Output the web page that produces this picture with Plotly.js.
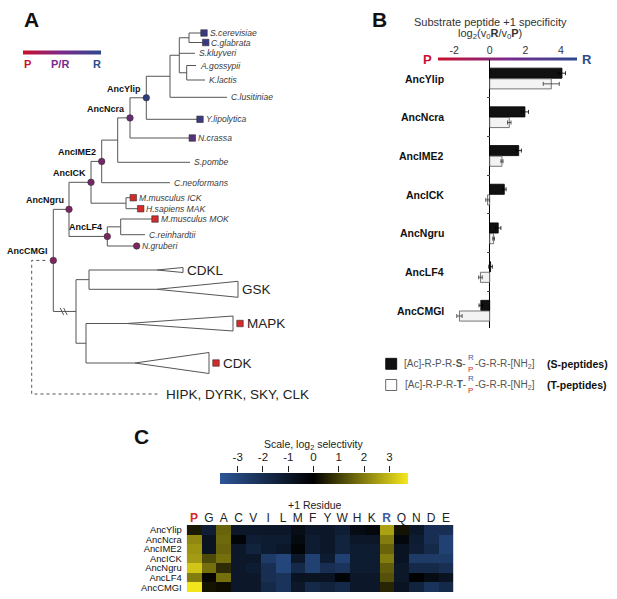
<!DOCTYPE html>
<html><head><meta charset="utf-8">
<script src="https://cdn.plot.ly/plotly-3.0.1.min.js"></script>
<style>html,body{margin:0;padding:0;background:#fff}#chart{width:617px;height:599px}</style>
</head><body><div id="chart"></div>
<script>
// ================= DATA =================
// ---- Panel A: phylogenetic tree (node, parent, horizontal depth, leaf vertical slot) ----
const nodeNames = ['AncCMGI','AncNgru','AncICK','AncIME2','nSpo','AncNcra','AncYlip','nSacc','nSk','nScCg',
  'S.cerevisiae','C.glabrata','S.kluyveri','nAgKl','A.gossypii','K.lactis','C.lusitiniae','Y.lipolytica',
  'N.crassa','S.pombe','C.neoformans','nMak','M.musculus ICK','H.sapiens MAK','AncLF4','nMok',
  'M.musculus MOK','C.reinhardtii','N.gruberi','nCMGC','nCdklGsk','CDKL','GSK','nMapkCdk','MAPK','CDK'];
const nodeParents = [null,'AncCMGI','AncNgru','AncICK','AncIME2','nSpo','AncNcra','AncYlip','nSacc','nSk',
  'nScCg','nScCg','nSk','nSk','nAgKl','nAgKl','nSacc','AncYlip',
  'AncNcra','nSpo','AncIME2','AncICK','nMak','nMak','AncNgru','AncLF4',
  'nMok','nMok','AncLF4','AncCMGI','nCMGC','nCdklGsk','nCdklGsk','nCMGC','nMapkCdk','nMapkCdk'];
const nodeDepth = [53.3,69,91,101.7,117.7,130,146.3,170,179.3,189,
  204,205.7,195,186.7,196,205,227,200,
  192.3,190,170,126,133.3,140.7,107.3,120.7,
  155,145,136.7,76,89,157,157,86,127,135];
const leafSlot = [null,null,null,null,null,null,null,null,null,null,
  33,42.5,53.3,null,65.5,80,97.3,119.3,
  138,162.3,182.7,null,197.7,208.7,null,null,
  219,234.7,246,null,null,270,289.3,null,323.5,363];
const circleNodes  = ['AncYlip','AncNcra','AncIME2','AncICK','AncNgru','AncLF4','AncCMGI','N.gruberi'];
const circleColors = ['#2e3d7c','#682c74','#742868','#782766','#7d2462','#7d2462','#822260','#7d2462'];
const squareLeaves = ['S.cerevisiae','C.glabrata','Y.lipolytica','N.crassa','M.musculus ICK','H.sapiens MAK','M.musculus MOK'];
const squareColors = ['#3a3882','#3a3882','#3d3a80','#53347c','#d42a2a','#d42a2a','#d42a2a'];
const speciesLeaves = ['S.cerevisiae','C.glabrata','S.kluyveri','A.gossypii','K.lactis','C.lusitiniae','Y.lipolytica',
  'N.crassa','S.pombe','C.neoformans','M.musculus ICK','H.sapiens MAK','M.musculus MOK','C.reinhardtii','N.gruberi'];
const cladeNames  = ['CDKL','GSK','MAPK','CDK'];
const cladeTipX   = [183,238,233,209];
const cladeHalf   = [2.5,8,7.5,10.5];
const cladeMarked = [false,false,true,true];
const outgroupName = 'HIPK, DYRK, SKY, CLK';
const outgroupDepth = 160, outgroupSlot = 394, outgroupStem = 31.7;

// ---- Panel B: +1 specificity log2(v0R/v0P) ----
const ancestors = ['AncYlip','AncNcra','AncIME2','AncICK','AncNgru','AncLF4','AncCMGI'];
const sPeptide    = [4.06, 1.98, 1.63, 0.82, 0.48, 0.05, -0.50];
const sPeptideErr = [0.20, 0.20, 0.15, 0.10, 0.15, 0.10, 0.10];
const tPeptide    = [3.46, 1.10, 0.69, -0.12, 0.22, -0.52, -1.70];
const tPeptideErr = [0.45, 0.10, 0.06, 0.10, 0.05, 0.10, 0.15];
const bTicks = [-2,0,2,4];

// ---- Panel C: log2 selectivity heatmap ----
const residues = ['P','G','A','C','V','I','L','M','F','Y','W','H','K','R','Q','N','D','E'];
const heatRows = ['AncYlip','AncNcra','AncIME2','AncICK','AncNgru','AncLF4','AncCMGI'];
const selYlip = [0.4,-1.3,1.6,-1.0,-1.0,-1.0,-1.0,-0.6,-1.0,-1.0,-1.3,-0.5,-0.3,2.6,0.3,-1.0,-2.0,-2.0];
const selNcra = [2.2,-0.8,1.7,-0.2,-1.3,-1.2,-1.2,-0.4,-1.2,-1.0,-1.5,-1.0,-1.0,2.0,-0.3,-1.2,-2.0,-2.8];
const selIME2 = [2.4,-0.8,1.6,-1.0,-1.5,-1.2,-1.0,-0.2,-1.2,-1.0,-1.5,-1.2,-1.2,1.6,-0.8,-1.3,-1.8,-2.8];
const selICK  = [2.5,1.2,1.8,-1.0,-1.0,-2.5,-3.0,-1.0,-2.8,-1.2,-2.8,-1.2,-1.2,2.0,-0.8,-2.5,-2.5,-2.5];
const selNgru = [3.2,1.8,0.7,-1.0,-1.2,-2.0,-3.0,-1.8,-2.8,-2.0,-2.2,-1.2,-1.2,1.5,-1.0,-1.8,-1.8,-2.0];
const selLF4  = [2.0,0.1,1.8,-1.0,-1.0,-2.0,-2.2,-0.8,-0.8,-0.8,-0.2,-1.0,-1.0,1.3,-1.0,-0.1,-0.5,-0.8];
const selCMGI = [3.7,0.3,0.2,-1.0,-1.0,-1.8,-2.2,-1.0,-1.8,-1.5,-1.8,-1.0,-1.0,0.6,-0.8,-1.5,-2.2,-1.8];
const scaleTicks = [-3,-2,-1,0,1,2,3];

// ================= BUILD =================
const W = 617, H = 599;
const FONT = 'Liberation Sans, Arial, Helvetica, sans-serif';
const px = x => x / W, py = y => 1 - y / H;
const LINE = '#555';
const hyphenLabel = v => String(v);   // plain hyphen minus, as in the figure

// tree geometry
const idx = {}; nodeNames.forEach((n,i)=>idx[n]=i);
const kids = nodeNames.map(()=>[]);
nodeParents.forEach((p,i)=>{ if(p) kids[idx[p]].push(i); });
const yCache = {};
function yOf(i){
  if (yCache[i] !== undefined) return yCache[i];
  if (leafSlot[i] !== null) return (yCache[i] = leafSlot[i]);
  const ys = kids[i].map(yOf);
  return (yCache[i] = (Math.min(...ys) + Math.max(...ys)) / 2);
}
const bx = [], by = [];
nodeNames.forEach((n,i)=>{
  const p = nodeParents[i];
  if (p) { bx.push(nodeDepth[idx[p]], nodeDepth[i], null); by.push(yOf(i), yOf(i), null); }
  if (kids[i].length) { const ys = kids[i].map(yOf); bx.push(nodeDepth[i], nodeDepth[i], null); by.push(Math.min(...ys), Math.max(...ys), null); }
});
const traces = [];
traces.push({type:'scatter', mode:'lines', x:bx, y:by, line:{color:LINE, width:1}, hoverinfo:'skip', xaxis:'x', yaxis:'y'});

// break mark on CMGC stem
{
  const i = idx['nCMGC'], p = idx['AncCMGI'];
  const mx = (nodeDepth[i] + nodeDepth[p]) / 2, my = yOf(i);
  traces.push({type:'scatter', mode:'lines',
    x:[mx-4.5, mx-1, null, mx-1, mx+2.5], y:[my-3.5, my+3.5, null, my-3.5, my+3.5],
    line:{color:LINE, width:1}, hoverinfo:'skip', xaxis:'x', yaxis:'y'});
}
// outgroup dashed
{
  const r = idx['AncCMGI'];
  traces.push({type:'scatter', mode:'lines',
    x:[nodeDepth[r]-8, outgroupStem, outgroupStem, outgroupDepth],
    y:[yOf(r), yOf(r), outgroupSlot, outgroupSlot],
    line:{color:LINE, width:1, dash:'3px,3px'}, hoverinfo:'skip', xaxis:'x', yaxis:'y'});
}
// collapsed clade triangles
cladeNames.forEach((c,k)=>{
  const i = idx[c], ax = nodeDepth[i], ay = yOf(i);
  traces.push({type:'scatter', mode:'lines', fill:'toself', fillcolor:'#fff',
    x:[ax, cladeTipX[k], cladeTipX[k], ax], y:[ay, ay-cladeHalf[k], ay+cladeHalf[k], ay],
    line:{color:LINE, width:1}, hoverinfo:'skip', xaxis:'x', yaxis:'y'});
});
// squares on leaves
const sqX = [], sqY = [], sqC = [];
squareLeaves.forEach((n,k)=>{ sqX.push(nodeDepth[idx[n]]); sqY.push(yOf(idx[n])); sqC.push(squareColors[k]); });
cladeNames.forEach((c,k)=>{ if (cladeMarked[k]) { sqX.push(cladeTipX[k]+7); sqY.push(yOf(idx[c])); sqC.push('#d42a2a'); } });
traces.push({type:'scatter', mode:'markers', x:sqX, y:sqY, marker:{symbol:'square', size:6.5, color:sqC, line:{color:'#333', width:0.6}}, hoverinfo:'skip', xaxis:'x', yaxis:'y'});
// circles on ancestral nodes
traces.push({type:'scatter', mode:'markers', x:circleNodes.map(n=>nodeDepth[idx[n]]), y:circleNodes.map(n=>yOf(idx[n])),
  marker:{symbol:'circle', size:6.5, color:circleColors, line:{color:'#333', width:0.6}}, hoverinfo:'skip', xaxis:'x', yaxis:'y'});

// gradient bars (P -> R)
const gradScale = [[0,'#c8102e'],[0.5,'#7b2a8c'],[1,'#2d4a8e']];
function gradBar(x0, x1, y0, y1){
  const n = 80, xs = [], z = [[]];
  for (let k=0;k<=n;k++) xs.push(x0 + (x1-x0)*k/n);
  for (let k=0;k<n;k++) z[0].push(k);
  return {type:'heatmap', x:xs, y:[y0,y1], z:z, colorscale:gradScale, showscale:false, hoverinfo:'skip', xaxis:'x', yaxis:'y', zsmooth:false};
}
traces.push(gradBar(23, 101, 50.5, 54));
traces.push(gradBar(438, 577, 57.5, 60.5));

// Panel B bars
traces.push({type:'bar', orientation:'h', name:'S-peptides', y:ancestors, x:sPeptide,
  marker:{color:'#111', line:{color:'#000', width:0.8}},
  error_x:{type:'data', array:sPeptideErr, color:'#000', thickness:0.8, width:2},
  xaxis:'x2', yaxis:'y2', hoverinfo:'skip'});
traces.push({type:'bar', orientation:'h', name:'T-peptides', y:ancestors, x:tPeptide,
  marker:{color:'#f3f3f3', line:{color:'#555', width:0.8}},
  error_x:{type:'data', array:tPeptideErr, color:'#333', thickness:0.8, width:2},
  xaxis:'x2', yaxis:'y2', hoverinfo:'skip'});

// Panel C heatmap
traces.push({type:'heatmap', x:residues, y:heatRows,
  z:[selYlip, selNcra, selIME2, selICK, selNgru, selLF4, selCMGI],
  zmin:-3.7, zmax:3.75,
  colorscale:[[0,'#2c5697'],[0.4966,'#000000'],[1,'#f5e81c']],
  xaxis:'x3', yaxis:'y3', hoverinfo:'skip',
  colorbar:{orientation:'h', x:px(220), xanchor:'left', y:py(484), yanchor:'bottom',
    len:188.3, lenmode:'pixels', thickness:11, thicknessmode:'pixels', xpad:0, ypad:0,
    outlinewidth:0, showticklabels:false, ticks:''}});
// axis for colour-scale ticks
traces.push({type:'scatter', x:[], y:[], xaxis:'x4', yaxis:'y4', hoverinfo:'skip', showlegend:false});

// ================= ANNOTATIONS =================
const ann = [];
function pageText(x, y, text, opt){
  ann.push(Object.assign({xref:'x', yref:'y', x:x, y:y, text:text, showarrow:false,
    font:{family:FONT, size:9, color:'#333'}, xanchor:'left', yanchor:'middle', borderpad:0}, opt||{}));
}
// species labels
speciesLeaves.forEach(n=>{
  const i = idx[n];
  const gap = squareLeaves.includes(n) || circleNodes.includes(n) ? 4.5 : 3;
  pageText(nodeDepth[i] + gap, yOf(i), '<i>' + n + '</i>', {font:{family:FONT, size:8.6, color:'#3a3a3a'}});
});
// clade labels
cladeNames.forEach((c,k)=>{
  const gap = cladeMarked[k] ? 13 : 3;
  pageText(cladeTipX[k] + gap, yOf(idx[c]), c, {font:{family:FONT, size:13.5, color:'#222'}});
});
pageText(outgroupDepth + 5, outgroupSlot, outgroupName, {font:{family:FONT, size:13.5, color:'#222'}});
// ancestral node labels
circleNodes.filter(n=>n.startsWith('Anc')).forEach(n=>{
  const i = idx[n];
  pageText(nodeDepth[i] - 4.5, yOf(i) - 9, '<b>' + n + '</b>', {xanchor:'right', font:{family:FONT, size:9, color:'#111'}});
});
// panel letters
pageText(31, 19, '<b>A</b>', {xanchor:'center', font:{family:FONT, size:21, color:'#111'}});
pageText(379.5, 19, '<b>B</b>', {xanchor:'center', font:{family:FONT, size:21, color:'#111'}});
pageText(141.7, 436, '<b>C</b>', {xanchor:'center', font:{family:FONT, size:21, color:'#111'}});
// P / R key in A
pageText(27, 63.5, '<b>P</b>', {xanchor:'center', font:{family:FONT, size:11, color:'#c8102e'}});
pageText(60, 63.5, '<b>P/R</b>', {xanchor:'center', font:{family:FONT, size:11, color:'#7b2a8c'}});
pageText(97, 63.5, '<b>R</b>', {xanchor:'center', font:{family:FONT, size:11, color:'#2d4a8e'}});
// panel B headings
pageText(490, 22, 'Substrate peptide +1 specificity', {xanchor:'center', font:{family:FONT, size:11, color:'#333'}});
pageText(490, 34, 'log<sub>2</sub>(v<sub>0</sub><b>R</b>/v<sub>0</sub><b>P</b>)', {xanchor:'center', font:{family:FONT, size:11, color:'#333'}});
pageText(427.3, 59, '<b>P</b>', {xanchor:'center', font:{family:FONT, size:13, color:'#c8102e'}});
pageText(586.7, 59, '<b>R</b>', {xanchor:'center', font:{family:FONT, size:13, color:'#2d4a8e'}});
// panel B category labels
ancestors.forEach(a=>{
  ann.push({xref:'paper', yref:'y2', x:px(446), y:a, text:'<b>'+a+'</b>', showarrow:false, xanchor:'right', yanchor:'middle',
    font:{family:FONT, size:10.5, color:'#111'}});
});
// panel B legend
const legendRows = [{y:363.5, res:'S', lab:'(S-peptides)'}, {y:384.5, res:'T', lab:'(T-peptides)'}];
legendRows.forEach(r=>{
  pageText(467, r.y, '[Ac]-R-P-R-<b>' + r.res + '</b>-', {xanchor:'right', font:{family:FONT, size:10, color:'#555'}});
  pageText(470.7, r.y - 6, 'R', {xanchor:'center', font:{family:FONT, size:8, color:'#3b5ba5'}});
  pageText(470.7, r.y + 6, 'P', {xanchor:'center', font:{family:FONT, size:8, color:'#d42a2a'}});
  pageText(474, r.y, '-G-R-R-[NH<sub>2</sub>]', {font:{family:FONT, size:10, color:'#555'}});
  pageText(577, r.y, '<b>' + r.lab + '</b>', {xanchor:'center', font:{family:FONT, size:10.5, color:'#111'}});
});
// panel C headings
pageText(313, 444.5, 'Scale, log<sub>2</sub> selectivity', {xanchor:'center', font:{family:FONT, size:10.5, color:'#222'}});
pageText(315, 504.5, '+1 Residue', {xanchor:'center', font:{family:FONT, size:10.5, color:'#222'}});

const shapes = [
  {type:'rect', xref:'paper', yref:'paper', x0:px(385.7), x1:px(396.7), y0:py(369.3), y1:py(358.3), fillcolor:'#111', line:{color:'#000', width:0.8}},
  {type:'rect', xref:'paper', yref:'paper', x0:px(385.7), x1:px(396.7), y0:py(390.5), y1:py(379.5), fillcolor:'#fff', line:{color:'#444', width:0.8}}
];

const tickText = residues.map(r => r==='P' ? '<b><span style="color:#d42a2a">P</span></b>' : (r==='R' ? '<b><span style="color:#3b5ba5">R</span></b>' : r));

const layout = {
  width:W, height:H, margin:{l:0,r:0,t:0,b:0},
  paper_bgcolor:'#fff', plot_bgcolor:'rgba(0,0,0,0)',
  showlegend:false, font:{family:FONT, color:'#222'},
  xaxis:{domain:[0,1], range:[0,W], visible:false, fixedrange:true},
  yaxis:{domain:[0,1], range:[H,0], visible:false, fixedrange:true},
  xaxis2:{domain:[px(452), px(577)], range:[(452-489.7)/17.8, (577-489.7)/17.8], anchor:'y2', side:'top',
    tickmode:'array', tickvals:bTicks, ticktext:bTicks.map(hyphenLabel), ticks:'', ticklabelstandoff:2,
    showgrid:false, showline:false, zeroline:true, zerolinecolor:'#000', zerolinewidth:1.3,
    tickfont:{family:FONT, size:10.5, color:'#333'}, fixedrange:true},
  yaxis2:{domain:[py(328), py(59)], type:'category', categoryorder:'array', categoryarray:ancestors,
    range:[6.447, -0.504], autorange:false, anchor:'free', position:px(489.7), tickson:'boundaries',
    ticks:'outside', ticklen:3, tickcolor:'#444', showticklabels:false, showgrid:false, showline:false, zeroline:false, fixedrange:true},
  barmode:'group', bargap:0.45, bargroupgap:0.05,
  xaxis3:{domain:[px(186.7), px(453.3)], anchor:'y3', side:'top', ticks:'', showgrid:false, showline:false,
    tickmode:'array', tickvals:residues, ticktext:tickText, tickfont:{family:FONT, size:12, color:'#222'}, fixedrange:true},
  yaxis3:{domain:[py(592), py(525)], anchor:'x3', autorange:'reversed', ticks:'', showgrid:false, showline:false,
    tickmode:'array', tickvals:heatRows, ticktext:heatRows, ticklabelstandoff:4,
    tickfont:{family:FONT, size:9.4, color:'#111'}, fixedrange:true},
  xaxis4:{domain:[px(220), px(408.3)], range:[-3.7, 3.75], anchor:'y4', side:'top',
    tickmode:'array', tickvals:scaleTicks, ticktext:scaleTicks.map(hyphenLabel),
    ticks:'outside', ticklen:6, tickcolor:'#222', showgrid:false, showline:false, zeroline:false,
    tickfont:{family:FONT, size:11.5, color:'#222'}, fixedrange:true},
  yaxis4:{domain:[py(484), py(473)], anchor:'x4', visible:false, range:[0,1], fixedrange:true},
  annotations:ann, shapes:shapes
};
Plotly.newPlot('chart', traces, layout, {staticPlot:true, displayModeBar:false});
</script>
</body></html>
